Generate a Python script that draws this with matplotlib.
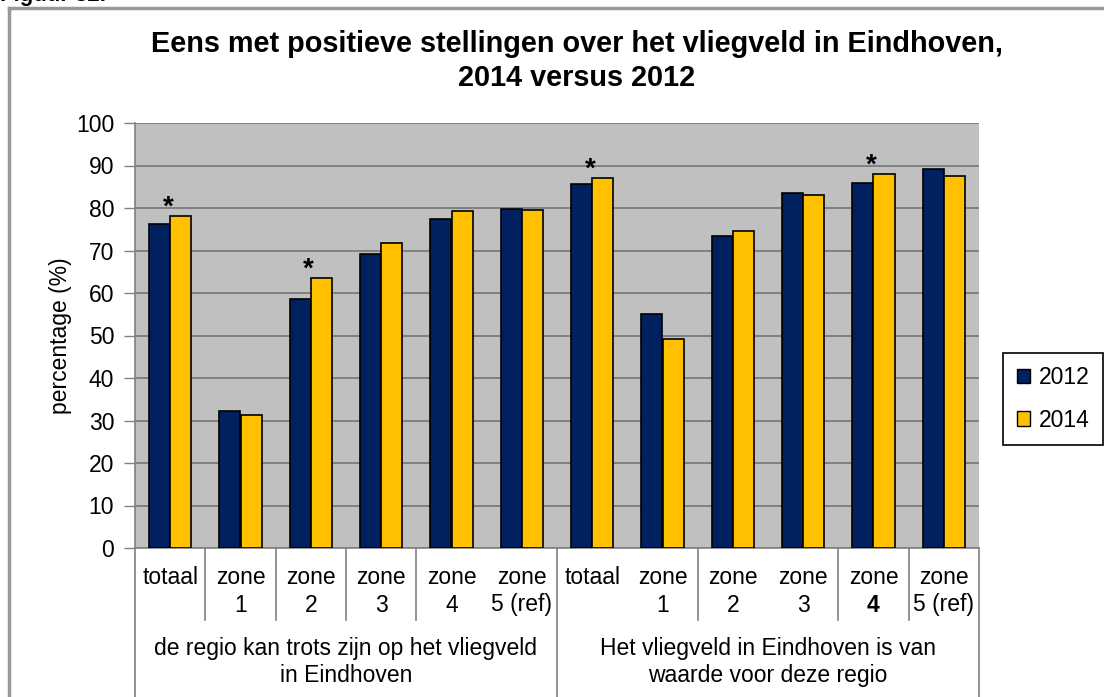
import matplotlib
matplotlib.use("Agg")
import matplotlib.pyplot as plt
from matplotlib.lines import Line2D
from matplotlib.patches import Patch
import matplotlib.transforms as mtransforms
import numpy as np

plt.rcParams['font.family'] = ['Liberation Sans', 'DejaVu Sans']

# Data
cat_line1 = ["totaal", "zone", "zone", "zone", "zone", "zone",
             "totaal", "zone", "zone", "zone", "zone", "zone"]
cat_line2 = ["", "1", "2", "3", "4", "5 (ref)",
             "", "1", "2", "3", "4", "5 (ref)"]
group_labels = ["de regio kan trots zijn op het vliegveld\nin Eindhoven",
                "Het vliegveld in Eindhoven is van\nwaarde voor deze regio"]
values_2012 = [76.2, 32.2, 58.7, 69.1, 77.4, 79.7,
               85.6, 55.0, 73.3, 83.5, 86.0, 89.1]
values_2014 = [78.1, 31.3, 63.5, 71.7, 79.3, 79.5,
               87.1, 49.1, 74.5, 83.0, 87.9, 87.5]
significant = [True, False, True, False, False, False,
               True, False, False, False, True, False]
series_names = ["2012", "2014"]
colors = ["#00205F", "#FFC000"]

W, H = 1104, 697
fig = plt.figure(figsize=(W / 100, H / 100), dpi=100)

# plot area in pixel coordinates
px_left, px_right, px_top, px_bottom = 135, 979, 123, 548
ax = fig.add_axes([px_left / W, 1 - px_bottom / H,
                   (px_right - px_left) / W, (px_bottom - px_top) / H])
ax.set_facecolor("#C0C0C0")

n = len(cat_line1)
x = np.arange(n)
bw = 0.3
ax.bar(x - bw / 2, values_2012, bw, color=colors[0], edgecolor="black",
       linewidth=1.2, zorder=3)
ax.bar(x + bw / 2, values_2014, bw, color=colors[1], edgecolor="black",
       linewidth=1.2, zorder=3)

# significance markers
for i in range(n):
    if significant[i]:
        top = max(values_2012[i], values_2014[i])
        ax.text(x[i] - 0.03, top + 2.0, "*", ha="center", va="center",
                fontsize=20, fontweight="bold", zorder=4)

ax.set_xlim(-0.5, n - 0.5)
ax.set_ylim(0, 100)
ax.set_yticks(np.arange(0, 101, 10))
ax.yaxis.grid(True, color="#808080", linewidth=1.4, zorder=0)
ax.set_axisbelow(True)
ax.tick_params(axis="y", labelsize=16.5, length=8, width=1, color="#808080",
               pad=7, labelcolor="black")
ax.set_xticks([])
for s in ["top", "right"]:
    ax.spines[s].set_visible(False)
ax.spines["left"].set_color("#808080")
ax.spines["bottom"].set_color("#808080")
ax.spines["left"].set_linewidth(1.2)
ax.spines["bottom"].set_linewidth(1.2)
ax.set_ylabel("percentage (%)", fontsize=16.5, labelpad=3)

# category and group labels beneath the axis
trans = mtransforms.blended_transform_factory(ax.transData, fig.transFigure)


def fy(ypix):
    return 1 - ypix / H


for i in range(n):
    ax.text(x[i], fy(578), cat_line1[i], transform=trans, ha="center",
            va="center", fontsize=16.5)
    if cat_line2[i]:
        bold = (i == 10)
        ax.text(x[i], fy(605), cat_line2[i], transform=trans, ha="center",
                va="center", fontsize=16.5,
                fontweight="bold" if bold else "normal")

for g, lbl in enumerate(group_labels):
    ax.text(g * 6 + 2.5, fy(662), lbl, transform=trans, ha="center",
            va="center", fontsize=16.5, linespacing=1.2)

# separators between categories
short_seps = [0.5, 1.5, 2.5, 3.5, 7.5, 9.5, 10.5]
long_seps = [-0.5, 5.5, 11.5]
for s in short_seps:
    ax.add_line(Line2D([s, s], [fy(548), fy(620)], transform=trans,
                       color="#808080", linewidth=1.2, clip_on=False))
for s in long_seps:
    ax.add_line(Line2D([s, s], [fy(548), fy(697)], transform=trans,
                       color="#808080", linewidth=1.2, clip_on=False))
# small tick stub to the left of the origin
ax.add_line(Line2D([px_left / W - 10 / W, px_left / W], [fy(548), fy(548)],
                   transform=fig.transFigure, color="#808080", linewidth=1.2))

# legend
handles = [Patch(facecolor=c, edgecolor="black", linewidth=1) for c in colors]
leg = fig.legend(handles, series_names, loc="center",
                 bbox_to_anchor=(1053 / W, fy(399)), fontsize=16.5,
                 frameon=True, fancybox=False, framealpha=1,
                 edgecolor="black", handlelength=0.6, handleheight=0.6,
                 handletextpad=0.35, labelspacing=0.85, borderpad=0.6,
                 borderaxespad=0)
leg.get_frame().set_linewidth(1.2)

# title
fig.text(577 / W, fy(61), "Eens met positieve stellingen over het vliegveld in Eindhoven,\n2014 versus 2012",
         ha="center", va="center", fontsize=20.8, fontweight="bold",
         linespacing=1.3)

# caption above the frame
fig.text(0, fy(-5), "Figuur 32.", ha="left", va="center", fontsize=16,
         fontweight="bold")

# outer frame
fig.add_artist(Line2D([9 / W, 9 / W], [fy(8), 0], transform=fig.transFigure,
                      color="#999999", linewidth=2.5))
fig.add_artist(Line2D([9 / W, 1], [fy(8), fy(8)], transform=fig.transFigure,
                      color="#999999", linewidth=2.5))

fig.savefig("out.png", dpi=100)
